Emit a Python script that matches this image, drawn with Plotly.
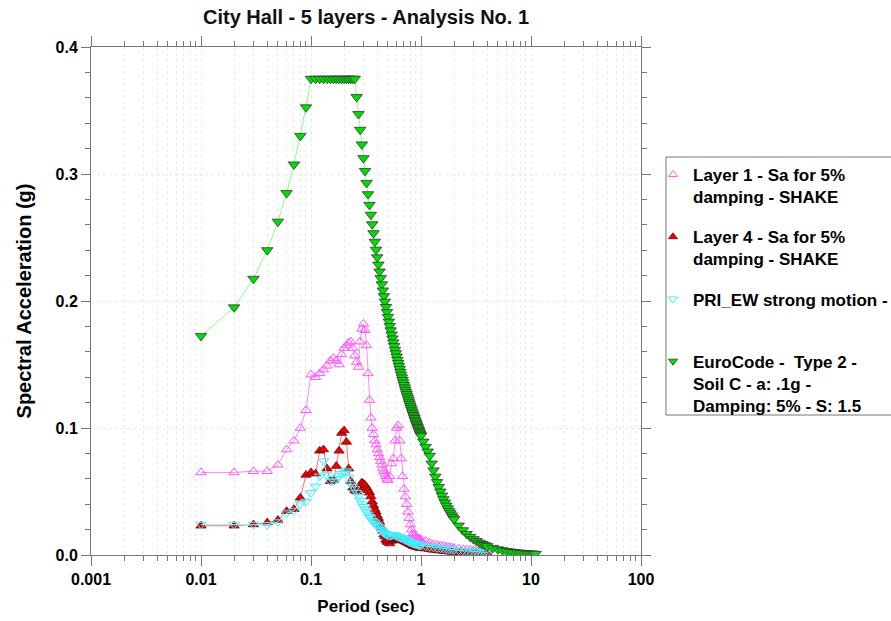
import plotly.graph_objects as go

# ---------------- data ----------------
shake_period = [
    0.01, 0.02, 0.03, 0.04, 0.05, 0.06, 0.07, 0.08, 0.09, 0.10,
    0.11, 0.12, 0.13, 0.14, 0.15, 0.16, 0.17, 0.18, 0.19, 0.20,
    0.21, 0.22, 0.23, 0.24, 0.25, 0.26, 0.27, 0.28, 0.29, 0.30,
    0.31, 0.32, 0.33, 0.34, 0.35, 0.36, 0.37, 0.38, 0.39, 0.40,
    0.41, 0.42, 0.43, 0.44, 0.45, 0.46, 0.47, 0.48, 0.49, 0.50,
    0.52, 0.54, 0.56, 0.58, 0.60, 0.62, 0.64, 0.66, 0.68, 0.70,
    0.72, 0.74, 0.76, 0.78, 0.80, 0.82, 0.84, 0.86, 0.88, 0.90,
    0.92, 0.94, 0.96, 0.98, 1.00,
    1.1, 1.2, 1.3, 1.4, 1.5, 1.6, 1.7, 1.8, 1.9, 2.0,
    2.2, 2.4, 2.6, 2.8, 3.0, 3.2, 3.4, 3.6, 3.8, 4.0,
]

layer1_sa = [
    0.065, 0.065, 0.066, 0.066, 0.071, 0.083, 0.090, 0.100, 0.114, 0.142,
    0.140, 0.143, 0.146, 0.149, 0.153, 0.155, 0.153, 0.150, 0.158, 0.163,
    0.165, 0.167, 0.168, 0.163, 0.157, 0.152, 0.148, 0.168, 0.178, 0.182,
    0.177, 0.165, 0.143, 0.122, 0.108, 0.100, 0.095, 0.090, 0.087, 0.083,
    0.080, 0.077, 0.074, 0.071, 0.068, 0.066, 0.064, 0.062, 0.060, 0.059,
    0.062, 0.072, 0.076, 0.090, 0.100, 0.102, 0.090, 0.076, 0.062, 0.052,
    0.046, 0.040, 0.034, 0.029, 0.024, 0.020, 0.017, 0.016, 0.015, 0.014,
    0.014, 0.013, 0.013, 0.012, 0.012,
    0.011, 0.0095, 0.0085, 0.008, 0.0075, 0.007, 0.0065, 0.006, 0.0058, 0.0055,
    0.005, 0.0045, 0.0042, 0.004, 0.0037, 0.0035, 0.0033, 0.0031, 0.003, 0.0028,
]

layer4_sa = [
    0.023, 0.023, 0.024, 0.0255, 0.0275, 0.0345, 0.036, 0.045, 0.063, 0.065,
    0.064, 0.082, 0.083, 0.068, 0.058, 0.059, 0.070, 0.082, 0.096, 0.098,
    0.089, 0.068, 0.058, 0.053, 0.051, 0.050, 0.052, 0.055, 0.057, 0.056,
    0.055, 0.053, 0.051, 0.049, 0.046, 0.042, 0.039, 0.036, 0.034, 0.031,
    0.029, 0.026, 0.023, 0.021, 0.019, 0.016, 0.0145, 0.012, 0.011, 0.010,
    0.009, 0.011, 0.012, 0.0125, 0.013, 0.013, 0.0125, 0.012, 0.0115, 0.011,
    0.0105, 0.010, 0.0095, 0.009, 0.0085, 0.008, 0.0075, 0.007, 0.0068, 0.0065,
    0.0063, 0.006, 0.0058, 0.0056, 0.0055,
    0.005, 0.0045, 0.004, 0.0037, 0.0034, 0.0031, 0.0029, 0.0027, 0.0025, 0.0024,
    0.0021, 0.0019, 0.0017, 0.0016, 0.0015, 0.0014, 0.0013, 0.0012, 0.0011, 0.001,
]

pri_ew_sa = [
    0.024, 0.024, 0.024, 0.0238, 0.026, 0.033, 0.035, 0.040, 0.042, 0.049,
    0.054, 0.062, 0.074, 0.063, 0.058, 0.058, 0.060, 0.062, 0.064, 0.065,
    0.066, 0.061, 0.056, 0.054, 0.052, 0.049, 0.046, 0.043, 0.040, 0.038,
    0.036, 0.034, 0.032, 0.030, 0.029, 0.027, 0.026, 0.025, 0.024, 0.023,
    0.022, 0.021, 0.020, 0.019, 0.018, 0.0175, 0.017, 0.0165, 0.016, 0.0155,
    0.015, 0.0155, 0.016, 0.0155, 0.015, 0.0145, 0.014, 0.0135, 0.013, 0.0125,
    0.012, 0.0115, 0.011, 0.0105, 0.010, 0.0097, 0.0094, 0.0091, 0.0088, 0.0085,
    0.0083, 0.0081, 0.0079, 0.0077, 0.0075,
    0.007, 0.0065, 0.006, 0.0056, 0.0053, 0.005, 0.0047, 0.0045, 0.0043, 0.0041,
    0.0037, 0.0034, 0.0031, 0.0029, 0.0027, 0.0025, 0.0024, 0.0022, 0.0021, 0.002,
]

ec_period = [
    0.01, 0.02, 0.03, 0.04, 0.05, 0.06, 0.07, 0.08, 0.09, 0.10,
    0.11, 0.12, 0.13, 0.14, 0.15, 0.16, 0.17, 0.18, 0.19, 0.20,
    0.21, 0.22, 0.23, 0.24, 0.25,
    0.26, 0.27, 0.28, 0.29, 0.30, 0.31, 0.32, 0.33, 0.34, 0.35,
    0.36, 0.37, 0.38, 0.39, 0.40, 0.41, 0.42, 0.43, 0.44, 0.45,
    0.46, 0.47, 0.48, 0.49, 0.50, 0.51, 0.52, 0.53, 0.54, 0.55,
    0.56, 0.57, 0.58, 0.59, 0.60, 0.61, 0.62, 0.63, 0.64, 0.65,
    0.66, 0.67, 0.68, 0.69, 0.70, 0.71, 0.72, 0.73, 0.74, 0.75,
    0.76, 0.77, 0.78, 0.79, 0.80, 0.81, 0.82, 0.83, 0.84, 0.85,
    0.86, 0.87, 0.88, 0.89, 0.90, 0.91, 0.92, 0.93, 0.94, 0.95,
    0.96, 0.97, 0.98, 0.99, 1.00,
    1.05, 1.10, 1.15, 1.20, 1.25, 1.30, 1.35, 1.40, 1.45, 1.50,
    1.55, 1.60, 1.65, 1.70, 1.75, 1.80, 1.85, 1.90, 1.95, 2.00,
    2.2, 2.4, 2.6, 2.8, 3.0, 3.2, 3.4, 3.6, 3.8, 4.0,
    4.5, 5.0, 5.5, 6.0, 6.5, 7.0, 7.5, 8.0, 8.5, 9.0, 9.5, 10.0, 10.5, 11.0,
]

ec_sa = [
    0.1725, 0.195, 0.2175, 0.24, 0.2625, 0.285, 0.3075, 0.33, 0.3525, 0.375,
    0.375, 0.375, 0.375, 0.375, 0.375, 0.375, 0.375, 0.375, 0.375, 0.375,
    0.375, 0.375, 0.375, 0.375, 0.375,
    0.3606, 0.3472, 0.3348, 0.3233, 0.3125, 0.3024, 0.2930, 0.2841, 0.2757, 0.2679,
    0.2604, 0.2534, 0.2467, 0.2404, 0.2344, 0.2287, 0.2232, 0.2180, 0.2131, 0.2083,
    0.2038, 0.1995, 0.1953, 0.1913, 0.1875, 0.1838, 0.1803, 0.1769, 0.1736, 0.1705,
    0.1674, 0.1645, 0.1616, 0.1589, 0.1563, 0.1537, 0.1512, 0.1488, 0.1465, 0.1442,
    0.1420, 0.1399, 0.1379, 0.1359, 0.1339, 0.1320, 0.1302, 0.1284, 0.1267, 0.1250,
    0.1234, 0.1218, 0.1202, 0.1187, 0.1172, 0.1157, 0.1143, 0.1130, 0.1116, 0.1103,
    0.1090, 0.1078, 0.1065, 0.1053, 0.1042, 0.1030, 0.1019, 0.1008, 0.0997, 0.0987,
    0.0977, 0.0966, 0.0957, 0.0947, 0.0938,
    0.0893, 0.0852, 0.0815, 0.0781, 0.0720, 0.0666, 0.0617, 0.0574, 0.0535, 0.0500,
    0.0468, 0.0439, 0.0413, 0.0389, 0.0367, 0.0347, 0.0329, 0.0312, 0.0296, 0.0281,
    0.0232, 0.0195, 0.0166, 0.0143, 0.0125, 0.0110, 0.0097, 0.0087, 0.0078, 0.0070,
    0.0056, 0.0045, 0.0037, 0.0031, 0.0027, 0.0023, 0.0020, 0.0018, 0.0016, 0.0014,
    0.0012, 0.0011, 0.0010, 0.0009,
]

series_names = [
    "Layer 1 - Sa for 5%<br>damping - SHAKE",
    "Layer 4 - Sa for 5%<br>damping - SHAKE",
    "PRI_EW strong motion -<br> ",
    "EuroCode -  Type 2 -<br>Soil C - a: .1g -<br>Damping: 5% - S: 1.5",
]

x_tickvals = [0.001, 0.01, 0.1, 1, 10, 100]
x_ticktext = ["0.001", "0.01", "0.1", "1", "10", "100"]
y_tickvals = [0.0, 0.1, 0.2, 0.3, 0.4]
y_ticktext = ["0.0", "0.1", "0.2", "0.3", "0.4"]

title_text = "City Hall - 5 layers - Analysis No. 1"
x_title = "Period (sec)"
y_title = "Spectral Acceleration (g)"

# ---------------- styles ----------------
FONT = "Arial, 'Liberation Sans', sans-serif"
W, H = 891, 621
ML, MR, MT, MB = 91, 250, 47, 66
PW, PH = W - ML - MR, H - MT - MB

styles = [
    dict(line=dict(color="#FF88FF", width=1),
         marker=dict(symbol="triangle-up-open", size=9, color="#FF55FF",
                     line=dict(color="#FF55FF", width=1))),
    dict(line=dict(color="#FF7070", width=1),
         marker=dict(symbol="triangle-up", size=9, color="#EE0000",
                     line=dict(color="#5A0000", width=0.7))),
    dict(line=dict(color="#88FFFF", width=1),
         marker=dict(symbol="triangle-down-open", size=9, color="#44EEFF",
                     line=dict(color="#44EEFF", width=1))),
    dict(line=dict(color="#88FF88", width=1),
         marker=dict(symbol="triangle-down", size=10, color="#00DD00",
                     line=dict(color="#333333", width=0.8))),
]
xs = [shake_period, shake_period, shake_period, ec_period]
ys = [layer1_sa, layer4_sa, pri_ew_sa, ec_sa]

fig = go.Figure()
for i in range(4):
    fig.add_trace(go.Scatter(
        x=xs[i], y=ys[i], mode="lines+markers", showlegend=False,
        line=styles[i]["line"], marker=styles[i]["marker"],
    ))
# legend entries (marker only, like the reference)
for i in range(4):
    mk = dict(styles[i]["marker"])
    mk["size"] = 8
    fig.add_trace(go.Scatter(
        x=[None], y=[None], mode="markers", name=series_names[i],
        marker=mk, legendgroup="g%d" % i, showlegend=True,
    ))

minor_x = [m * 10 ** e for e in range(-3, 2) for m in range(2, 10)]
GRID = "#EAEAEA"
AX = "#777777"

fig.update_layout(
    width=W, height=H,
    margin=dict(l=ML, r=MR, t=MT, b=MB, autoexpand=False),
    paper_bgcolor="white", plot_bgcolor="white",
    font=dict(family=FONT, size=16, color="black"),
    title=dict(text=title_text, x=(ML + PW / 2) / W, xanchor="center",
               y=1 - 17 / H, yanchor="middle", yref="container",
               font=dict(family=FONT, size=20, color="#111111", weight="bold")),
    showlegend=True,
    legend=dict(
        x=(653 - ML) / PW, xanchor="left",
        y=(H - MB - 157) / PH, yanchor="top",
        bgcolor="rgba(0,0,0,0)", borderwidth=0,
        font=dict(family=FONT, size=17, color="black", weight="bold"),
        valign="top", tracegroupgap=15, traceorder="grouped",
        itemsizing="trace",
    ),
    xaxis=dict(
        type="log", range=[-3, 2],
        tickmode="array", tickvals=x_tickvals, ticktext=x_ticktext,
        ticks="outside", ticklen=10, tickcolor=AX, tickwidth=1,
        showline=True, linecolor=AX, linewidth=1, mirror="allticks",
        showgrid=True, gridcolor=GRID, griddash="dot", gridwidth=1,
        zeroline=False,
        tickfont=dict(family=FONT, size=16, color="black", weight="bold"),
        title=dict(text=x_title, standoff=12,
                   font=dict(family=FONT, size=17, color="black", weight="bold")),
        minor=dict(tickmode="array", tickvals=minor_x, ticks="outside", ticklen=5,
                   tickcolor=AX, showgrid=True, gridcolor=GRID,
                   griddash="dot", gridwidth=1),
    ),
    yaxis=dict(
        range=[0, 0.4],
        tickmode="array", tickvals=y_tickvals, ticktext=y_ticktext,
        ticks="outside", ticklen=9, tickcolor=AX, tickwidth=1,
        showline=True, linecolor=AX, linewidth=1, mirror="allticks",
        showgrid=True, gridcolor=GRID, griddash="dot", gridwidth=1,
        zeroline=True, zerolinecolor="black", zerolinewidth=2,
        tickfont=dict(family=FONT, size=16, color="black", weight="bold"),
        title=dict(text=y_title, standoff=18,
                   font=dict(family=FONT, size=20, color="black", weight="bold")),
        minor=dict(dtick=0.02, ticks="outside", ticklen=5, tickcolor=AX,
                   showgrid=False),
    ),
    shapes=[dict(
        type="rect", xref="paper", yref="paper",
        x0=(666 - ML) / PW, x1=(W + 20 - ML) / PW,
        y0=(H - MB - 415) / PH, y1=(H - MB - 157) / PH,
        line=dict(color="#777777", width=1), fillcolor="rgba(0,0,0,0)",
        layer="above",
    )],
)

fig.write_html("out.html")
